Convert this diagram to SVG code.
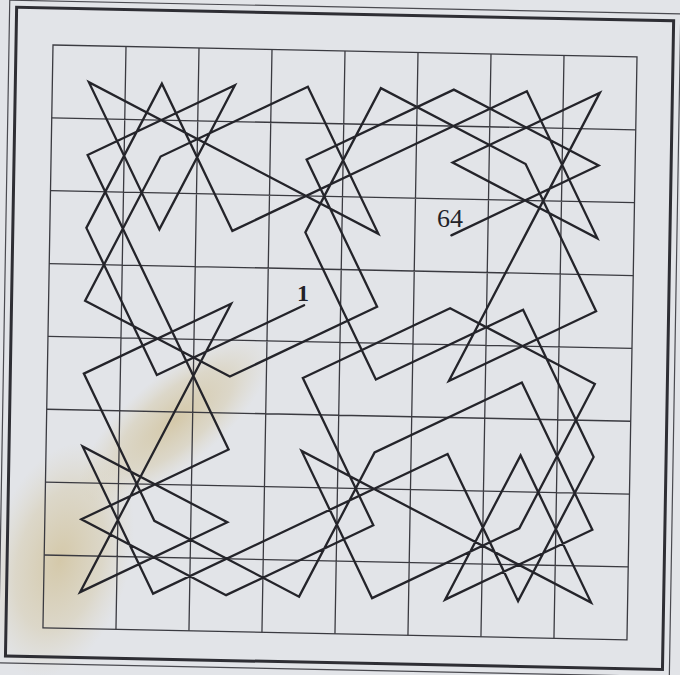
<svg xmlns="http://www.w3.org/2000/svg" width="680" height="675" viewBox="0 0 680 675">
<defs>
<radialGradient id="stain" cx="50%" cy="50%" r="50%">
<stop offset="0" stop-color="#c9b276" stop-opacity="0.55"/>
<stop offset="0.6" stop-color="#cdb981" stop-opacity="0.3"/>
<stop offset="1" stop-color="#d6c89c" stop-opacity="0"/>
</radialGradient>
</defs>
<style>
.frame{fill:none;stroke:#2e2e34;stroke-width:3}
.frame2{fill:none;stroke:#4a4a50;stroke-width:1.2}
.grid{fill:none;stroke:#3a3a40;stroke-width:1.3}
.tour{fill:none;stroke:#24242a;stroke-width:2.3;stroke-linejoin:miter;stroke-linecap:round}
.lbl{font-family:"Liberation Serif","DejaVu Serif",serif;fill:#222228}
</style>
<rect width="680" height="675" fill="#e2e4e8"/>
<g id="stains">
<ellipse cx="175" cy="420" rx="120" ry="45" transform="rotate(-40 175 420)" fill="url(#stain)"/>
<ellipse cx="60" cy="560" rx="70" ry="120" transform="rotate(15 60 560)" fill="url(#stain)"/>
</g>
<g id="board" transform="matrix(1 0.0205 -0.0172 0.998 53 45)">
<rect class="frame2" x="-44" y="-44" width="671" height="664"/>
<rect class="frame" x="-37" y="-37" width="657" height="650"/>
<g id="grid">
<rect class="grid" x="0" y="0" width="584" height="584"/>
<path class="grid" d="M73 0V584M146 0V584M219 0V584M292 0V584M365 0V584M438 0V584M511 0V584M0 73H584M0 146H584M0 219H584M0 292H584M0 365H584M0 438H584M0 511H584"/>
</g>
<g id="connectors">
<path class="tour" d="M255.5 255.5L109.5 328.5L36.5 182.5L109.5 36.5L182.5 182.5L328.5 109.5L474.5 36.5L547.5 182.5L401.5 109.5L547.5 36.5L474.5 182.5L401.5 328.5L547.5 255.5L474.5 109.5L328.5 36.5L255.5 182.5L328.5 328.5L474.5 255.5L547.5 401.5L474.5 547.5L401.5 401.5L255.5 474.5L109.5 547.5L36.5 401.5L182.5 474.5L36.5 547.5L109.5 401.5L182.5 255.5L36.5 328.5L109.5 474.5L255.5 547.5L328.5 401.5L474.5 328.5L547.5 474.5L401.5 547.5L474.5 401.5L547.5 547.5L401.5 474.5L255.5 401.5L328.5 547.5L474.5 474.5L547.5 328.5L401.5 255.5L255.5 328.5L328.5 474.5L182.5 547.5L36.5 474.5L182.5 401.5L109.5 255.5L36.5 109.5L182.5 36.5L109.5 182.5L36.5 36.5L182.5 109.5L328.5 182.5L255.5 36.5L109.5 109.5L36.5 255.5L182.5 328.5L328.5 255.5L255.5 109.5L401.5 36.5L547.5 109.5L401.5 182.5"/>
</g>
</g>
<g id="label-1"><text class="lbl" x="303" y="301" font-size="24" font-weight="bold" text-anchor="middle">1</text></g>
<g id="label-64"><text class="lbl" x="437" y="227" font-size="26">64</text></g>
</svg>
